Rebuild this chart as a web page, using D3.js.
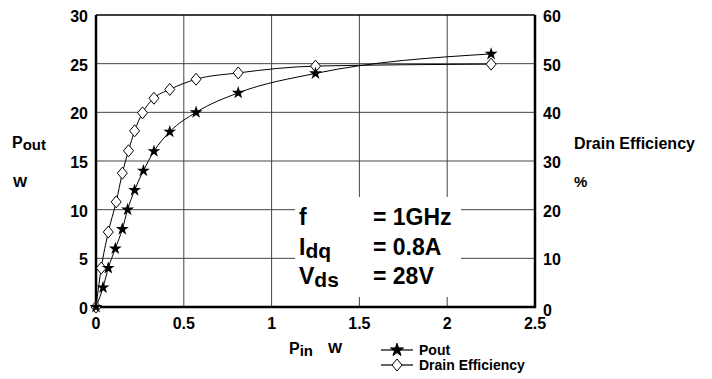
<!DOCTYPE html>
<html>
<head>
<meta charset="utf-8">
<script src="https://cdn.jsdelivr.net/npm/d3@7"></script>
<style>
  body { margin: 0; background: #fff; }
  text { font-family: "Liberation Sans", Arial, sans-serif; font-weight: bold; fill: #000; }
</style>
</head>
<body>
<svg id="chart" width="712" height="379"></svg>
<script>
// input power (W) for each measured point
const pinPout = [0, 0.04, 0.07, 0.11, 0.15, 0.18, 0.22, 0.27, 0.33, 0.42, 0.57, 0.81, 1.25, 2.25];
const pout = [0, 2, 4, 6, 8, 10, 12, 14, 16, 18, 20, 22, 24, 26];
const pinEff = [0, 0.03, 0.07, 0.115, 0.15, 0.185, 0.22, 0.265, 0.33, 0.42, 0.57, 0.81, 1.25, 2.25];
const eff = [0, 8, 15.4, 21.6, 27.5, 32.1, 36.2, 39.9, 42.9, 44.7, 46.8, 48.1, 49.5, 49.9];

const xTicks = [0, 0.5, 1, 1.5, 2, 2.5];
const yLeftTicks = [0, 5, 10, 15, 20, 25, 30];
const yRightTicks = [0, 10, 20, 30, 40, 50, 60];
const conditions = [
  { name: 'f', sub: '', value: '= 1GHz' },
  { name: 'I', sub: 'dq', value: '= 0.8A' },
  { name: 'V', sub: 'ds', value: '= 28V' },
];

const svg = d3.select('#chart');

const x = d3.scaleLinear().domain([0, 2.5]).range([96, 535]);
const yL = d3.scaleLinear().domain([0, 30]).range([307, 15]);
const yR = d3.scaleLinear().domain([0, 60]).range([307, 15]);

// grid
const grid = svg.append('g').attr('stroke', '#444').attr('stroke-width', 1);
grid.selectAll('.vg')
  .data(xTicks.slice(1, -1))
  .enter().append('line')
  .attr('x1', d => x(d)).attr('x2', d => x(d))
  .attr('y1', yL(30)).attr('y2', yL(0));
grid.selectAll('.hg')
  .data(yLeftTicks.slice(1, -1))
  .enter().append('line')
  .attr('x1', x(0)).attr('x2', x(2.5))
  .attr('y1', d => yL(d)).attr('y2', d => yL(d));

// frame
svg.append('line').attr('x1', x(0)).attr('x2', x(2.5)).attr('y1', yL(30)).attr('y2', yL(30))
  .attr('stroke', '#000').attr('stroke-width', 1.5);
svg.append('line').attr('x1', x(0)).attr('x2', x(0)).attr('y1', yL(30)).attr('y2', yL(0) + 1)
  .attr('stroke', '#000').attr('stroke-width', 2.5);
svg.append('line').attr('x1', x(2.5)).attr('x2', x(2.5)).attr('y1', yL(30)).attr('y2', yL(0) + 1)
  .attr('stroke', '#000').attr('stroke-width', 2.5);
svg.append('line').attr('x1', x(0) - 1).attr('x2', x(2.5) + 1).attr('y1', yL(0)).attr('y2', yL(0))
  .attr('stroke', '#000').attr('stroke-width', 2.5);

// tick labels
svg.selectAll('.xl')
  .data(xTicks)
  .enter().append('text')
  .attr('x', d => x(d)).attr('y', yL(0) + 22)
  .attr('text-anchor', 'middle')
  .style('font-size', '16px')
  .text(d => d);

svg.selectAll('.yl')
  .data(yLeftTicks)
  .enter().append('text')
  .attr('x', 88).attr('y', d => yL(d) + 7)
  .attr('text-anchor', 'end')
  .style('font-size', '16px')
  .text(d => d);

svg.selectAll('.yr')
  .data(yRightTicks)
  .enter().append('text')
  .attr('x', 543).attr('y', d => yR(d) + (d === 0 ? 9 : 7))
  .style('font-size', '16px')
  .text(d => d);

// axis titles
const tl = svg.append('text').attr('x', 12).attr('y', 148);
tl.append('tspan').style('font-size', '16px').text('P');
tl.append('tspan').style('font-size', '15px').attr('dy', 2).text('out');
svg.append('text').attr('x', 13).attr('y', 187).style('font-size', '15px').text('W');

svg.append('text').attr('x', 574).attr('y', 149).style('font-size', '16px').text('Drain Efficiency');
svg.append('text').attr('x', 574).attr('y', 187).style('font-size', '15px').text('%');

const tb = svg.append('text').attr('x', 289).attr('y', 354);
tb.append('tspan').style('font-size', '16px').text('P');
tb.append('tspan').style('font-size', '15px').attr('dy', 2).text('in');
svg.append('text').attr('x', 328).attr('y', 353).style('font-size', '15px').text('W');

// curves
const line = d3.line().curve(d3.curveMonotoneX);

svg.append('path')
  .attr('d', line(pinEff.map((p, i) => [x(p), yR(eff[i])])))
  .attr('fill', 'none').attr('stroke', '#000').attr('stroke-width', 1);
svg.append('path')
  .attr('d', line(pinPout.map((p, i) => [x(p), yL(pout[i])])))
  .attr('fill', 'none').attr('stroke', '#000').attr('stroke-width', 1);

const diamond = 'M0,-6L5,0L0,6L-5,0Z';
const star = d3.symbol().type(d3.symbolStar).size(52)();

svg.selectAll('.dm')
  .data(pinEff)
  .enter().append('path')
  .attr('d', diamond)
  .attr('transform', (p, i) => `translate(${x(p)},${yR(eff[i])})`)
  .attr('fill', '#fff').attr('stroke', '#000').attr('stroke-width', 1);

svg.selectAll('.st')
  .data(pinPout)
  .enter().append('path')
  .attr('d', star)
  .attr('transform', (p, i) => `translate(${x(p)},${yL(pout[i])})`)
  .attr('fill', '#000');

// operating conditions box
svg.append('rect')
  .attr('x', 295).attr('y', 197).attr('width', 166).attr('height', 100)
  .attr('fill', '#fff');

conditions.forEach((c, i) => {
  const yy = 225 + i * 29.5;
  const t = svg.append('text').attr('x', 299).attr('y', yy);
  t.append('tspan').style('font-size', '23px').text(c.name);
  if (c.sub) t.append('tspan').style('font-size', '21px').attr('dy', 3).text(c.sub);
  svg.append('text').attr('x', 373).attr('y', yy).style('font-size', '23px').text(c.value);
});

// legend
const legend = [
  { label: 'Pout', mark: star, fill: '#000' },
  { label: 'Drain Efficiency', mark: diamond, fill: '#fff' },
];
legend.forEach((l, i) => {
  const ly = 350 + i * 15;
  svg.append('line').attr('x1', 381).attr('x2', 413).attr('y1', ly).attr('y2', ly)
    .attr('stroke', '#000').attr('stroke-width', 1.2);
  svg.append('path').attr('d', l.mark).attr('transform', `translate(397,${ly})`)
    .attr('fill', l.fill).attr('stroke', '#000').attr('stroke-width', 1);
  svg.append('text').attr('x', 419).attr('y', ly + 5).style('font-size', '14px').text(l.label);
});
</script>
</body>
</html>
